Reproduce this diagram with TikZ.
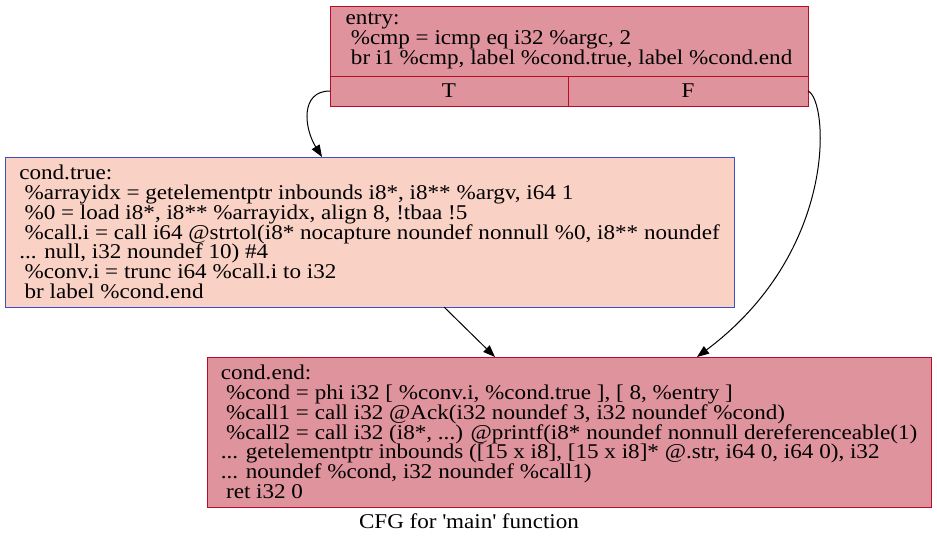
\documentclass[tikz,border=0pt]{standalone}
\usepackage{fontspec}
\setmainfont[FakeStretch=1.1]{Liberation Serif}
\usetikzlibrary{arrows.meta,calc}
\definecolor{hotfill}{RGB}{223,147,157}
\definecolor{hotline}{RGB}{183,13,40}
\definecolor{coldfill}{RGB}{249,209,197}
\definecolor{coldline}{RGB}{61,80,195}
\newcommand{\irfont}{\fontsize{21}{19.8}\selectfont\lineskiplimit=-50pt\relax}
\newcommand{\ind}{\hspace*{.25em}}

\begin{document}
\begin{tikzpicture}[x=1pt, y=-1pt,
		block/.style={draw, rectangle, anchor=north west, align=left, line width=1pt,
			inner xsep=11pt, inner ysep=0pt, outer sep=0pt, font=\irfont},
		hot/.style={block, draw=hotline, fill=hotfill},
		cold/.style={block, draw=coldline, fill=coldfill},
		port/.style={hot, align=center, minimum height=30pt},
		flow/.style={draw, line width=1pt, -{Triangle[length=12pt, width=9pt]}}]
		\useasboundingbox (0,0) rectangle (937,544);
		\node[hot, minimum width=478pt, minimum height=70pt] (entry) at (330,6)
			{entry:\\ \ind\%cmp = icmp eq i32 \%argc, 2\\
			\ind br i1 \%cmp, label \%cond.true, label \%cond.end};
		\node[port, minimum width=238pt] (entryT) at (330,76) {T};
		\node[port, minimum width=240pt] (entryF) at (568,76) {F};
		\node[cold, minimum width=729pt, minimum height=150pt] (ctrue) at (5,157)
			{cond.true:\\
			\ind\%arrayidx = getelementptr inbounds i8*, i8** \%argv, i64 1\\
			\ind\%0 = load i8*, i8** \%arrayidx, align 8, !tbaa !5\\
			\ind\%call.i = call i64 @strtol(i8* nocapture noundef nonnull \%0, i8** noundef\\
			... null, i32 noundef 10) \#4\\
			\ind\%conv.i = trunc i64 \%call.i to i32\\
			\ind br label \%cond.end};
		\node[hot, minimum width=724pt, minimum height=150pt] (cend) at (207,357)
			{cond.end:\\
			\ind\%cond = phi i32 [ \%conv.i, \%cond.true ], [ 8, \%entry ]\\
			\ind\%call1 = call i32 @Ack(i32 noundef 3, i32 noundef \%cond)\\
			\ind\%call2 = call i32 (i8*, ...) @printf(i8* noundef nonnull dereferenceable(1)\\
			... getelementptr inbounds ([15 x i8], [15 x i8]* @.str, i64 0, i64 0), i32\\
			... noundef \%cond, i32 noundef \%call1)\\
			\ind ret i32 0};
		\node[font=\irfont, anchor=base] (title) at (469,528) {CFG for \textquotesingle main\textquotesingle\ function};
		\draw[flow] (entryT.west) .. controls (300,91) and (304,128) .. ($(ctrue.north west)+(317,0)$);
		\draw[flow] (entryF.east) .. controls (828,99) and (840,250) .. ($(cend.north west)+(490,0)$);
		\draw[flow] ($(ctrue.south west)+(439,0)$) -- ($(cend.north west)+(288,0)$);
	\end{tikzpicture}
\end{document}
